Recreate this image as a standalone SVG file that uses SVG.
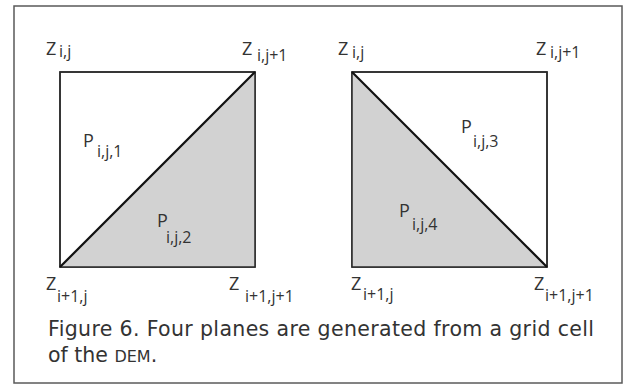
<svg xmlns="http://www.w3.org/2000/svg" width="633" height="388" viewBox="0 0 633 388">
<style>
.frame{fill:#fff;stroke:#5a5a5a;stroke-width:1.5}
.sq{fill:#fff;stroke:#2a2a2a;stroke-width:1.5}
.sh{fill:#d2d2d2;stroke:none}
.diag{stroke:#111;stroke-width:2.2;fill:none}
text{font-family:"Open Sans","Liberation Sans",sans-serif;fill:#333}
.m{font-size:18px}
.s{font-size:16px}
.cap{font-size:20.5px;font-family:"DejaVu Sans","Open Sans",sans-serif}
.sc{font-size:16px}
</style>
<rect width="633" height="388" fill="#fff"/>
<rect class="frame" x="14" y="6" width="608" height="377"/>
<g id="cellA">
<rect class="sq" x="60" y="72" width="195" height="195"/>
<polygon class="sh" points="60,267 255,72 255,267"/>
<rect class="sq" x="60" y="72" width="195" height="195" style="fill:none"/>
</g>
<g id="cellB">
<rect class="sq" x="352" y="72" width="195" height="195"/>
<polygon class="sh" points="352,72 352,267 547,267"/>
<rect class="sq" x="352" y="72" width="195" height="195" style="fill:none"/>
</g>
<g id="connectors">
<line class="diag" x1="60" y1="267" x2="255" y2="72"/>
<line class="diag" x1="352" y1="72" x2="547" y2="267"/>
</g>
<g id="labelsA">
<text class="m" x="46" y="55">Z</text><text class="s" x="59" y="57">i,j</text>
<text class="m" x="242" y="55">Z</text><text class="s" x="257" y="61">i,j+1</text>
<text class="m" x="83" y="147">P</text><text class="s" x="97" y="157">i,j,1</text>
<text class="m" x="157" y="227">P</text><text class="s" x="166" y="243">i,j,2</text>
<text class="m" x="46" y="290">Z</text><text class="s" x="57" y="302">i+1,j</text>
<text class="m" x="229" y="290">Z</text><text class="s" x="245" y="302">i+1,j+1</text>
</g>
<g id="labelsB">
<text class="m" x="338" y="55">Z</text><text class="s" x="352" y="58">i,j</text>
<text class="m" x="536" y="55">Z</text><text class="s" x="550" y="58">i,j+1</text>
<text class="m" x="461" y="133">P</text><text class="s" x="473" y="147">i,j,3</text>
<text class="m" x="399" y="217">P</text><text class="s" x="412" y="230">i,j,4</text>
<text class="m" x="351" y="290">Z</text><text class="s" x="363" y="300">i+1,j</text>
<text class="m" x="534" y="290">Z</text><text class="s" x="545" y="301">i+1,j+1</text>
</g>
<g id="caption">
<text class="cap" x="48" y="336" textLength="546">Figure 6. Four planes are generated from a grid cell</text>
<text class="cap" x="48" y="362">of the <tspan class="sc">DEM</tspan>.</text>
</g>
</svg>
